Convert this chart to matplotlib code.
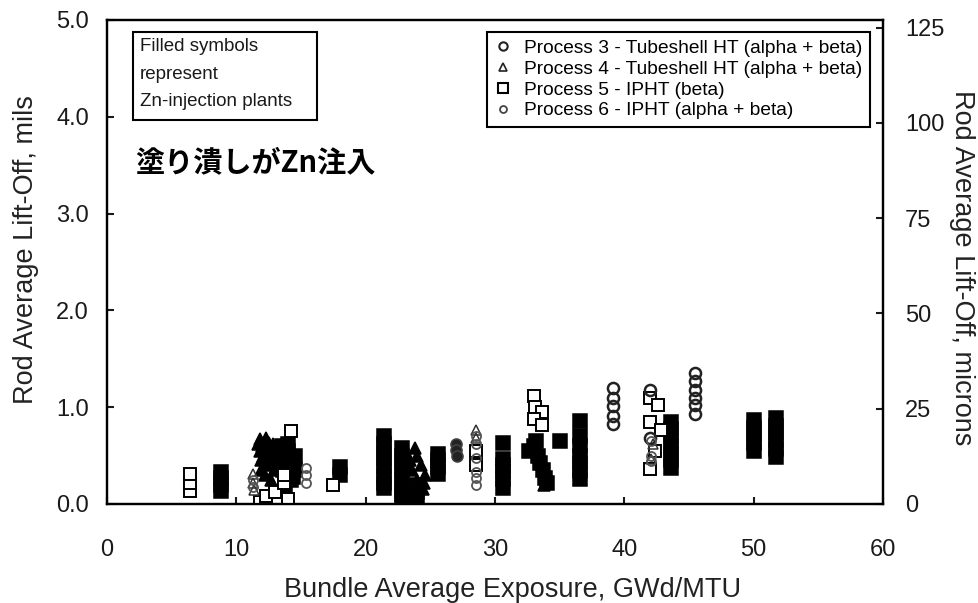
import matplotlib
matplotlib.use('Agg')
import matplotlib.pyplot as plt
from matplotlib.lines import Line2D
from matplotlib.patches import Rectangle

# Process 3 - Tubeshell HT (alpha + beta), circles
p3_open_x = [39.1, 39.1, 39.1, 39.1, 39.1, 45.5, 45.5, 45.5, 45.5, 45.5, 45.5, 42.0, 42.0]
p3_open_y = [1.20, 1.10, 1.01, 0.91, 0.83, 1.35, 1.27, 1.18, 1.10, 1.02, 0.93, 1.18, 0.68]
p3_fill_x = [27.0, 27.0, 27.1]
p3_fill_y = [0.62, 0.56, 0.50]

# Process 4 - Tubeshell HT (alpha + beta), triangles
p4_open_x = [11.3, 11.3, 11.4, 28.5, 28.5, 42.2, 42.1]
p4_open_y = [0.31, 0.22, 0.14, 0.76, 0.68, 0.62, 0.46]
p4_fill_x = [11.8, 12.3, 12.8, 11.8, 12.3, 12.7, 11.9, 12.4, 12.9, 12.2, 12.7, 13.2, 13.0,
             11.7, 12.0, 12.5, 12.1, 12.6, 13.1, 11.9, 12.4,
             23.8, 24.0, 24.3, 23.6, 24.0, 24.4, 23.8, 24.2, 24.6, 23.4, 24.5,
             33.2, 33.6, 34.0, 33.8]
p4_fill_y = [0.67, 0.68, 0.62, 0.55, 0.58, 0.50, 0.45, 0.40, 0.35, 0.30, 0.25, 0.45, 0.55,
             0.62, 0.60, 0.63, 0.50, 0.45, 0.38, 0.35, 0.52,
             0.58, 0.50, 0.40, 0.35, 0.25, 0.15, 0.08, 0.02, 0.30, 0.45, 0.22,
             0.55, 0.45, 0.30, 0.20]

# Process 5 - IPHT (beta), squares
p5_open_x = [6.4, 6.4, 6.4, 11.8, 12.3, 13.0, 14.0, 13.7, 13.7, 14.2, 17.5,
             28.5, 28.5, 33.0, 33.1, 33.6, 33.0, 33.6,
             42.0, 42.6, 42.0, 42.8, 42.4, 42.0]
p5_open_y = [0.13, 0.22, 0.31, 0.02, 0.08, 0.12, 0.05, 0.22, 0.30, 0.75, 0.20,
             0.55, 0.40, 1.12, 1.00, 0.95, 0.88, 0.82,
             1.10, 1.02, 0.85, 0.76, 0.55, 0.36]
p5_fill_x = [8.8, 8.8, 8.8, 8.8,
             13.5, 14.0, 14.5, 13.6, 14.1, 14.5, 13.6, 14.2, 13.8, 14.4, 14.0, 13.4,
             18.0, 18.0,
             21.4, 21.4, 21.4, 21.4, 21.4, 21.4, 21.4, 21.4,
             22.8, 22.8, 22.8, 22.8, 22.8, 22.8, 22.8, 22.8,
             24.0, 24.0, 24.0,
             25.6, 25.6, 25.6, 25.6,
             30.6, 30.6, 30.6, 30.6, 30.6, 30.6,
             32.6, 33.0, 33.3, 33.5, 33.7, 33.9, 34.0, 33.2,
             35.0,
             36.6, 36.6, 36.6, 36.6, 36.6, 36.6, 36.6,
             43.6, 43.6, 43.6, 43.6, 43.6, 43.6, 43.6,
             50.0, 50.0, 50.0, 50.0, 50.0,
             51.7, 51.7, 51.7, 51.7, 51.7, 51.7]
p5_fill_y = [0.13, 0.20, 0.27, 0.33,
             0.60, 0.55, 0.50, 0.45, 0.40, 0.35, 0.35, 0.25, 0.15, 0.28, 0.62, 0.52,
             0.38, 0.30,
             0.70, 0.62, 0.54, 0.46, 0.38, 0.30, 0.22, 0.17,
             0.58, 0.50, 0.42, 0.34, 0.26, 0.18, 0.10, 0.05,
             0.20, 0.12, 0.05,
             0.52, 0.45, 0.38, 0.31,
             0.63, 0.47, 0.40, 0.33, 0.26, 0.17,
             0.55, 0.60, 0.50, 0.42, 0.35, 0.27, 0.22, 0.65,
             0.65,
             0.86, 0.70, 0.60, 0.50, 0.42, 0.34, 0.26,
             0.85, 0.77, 0.69, 0.61, 0.53, 0.45, 0.37,
             0.87, 0.79, 0.71, 0.63, 0.55,
             0.89, 0.81, 0.73, 0.65, 0.57, 0.49]

# Process 6 - IPHT (alpha + beta), small circles
p6_open_x = [15.4, 15.4, 15.4, 28.5, 28.5, 28.5, 28.5, 28.5, 28.5, 42.1, 42.1, 42.1, 11.3, 11.3]
p6_open_y = [0.37, 0.30, 0.22, 0.70, 0.62, 0.48, 0.33, 0.27, 0.20, 0.65, 0.50, 0.44, 0.25, 0.18]

legend_labels = ['Process 3 - Tubeshell HT (alpha + beta)',
                 'Process 4 - Tubeshell HT (alpha + beta)',
                 'Process 5 - IPHT (beta)',
                 'Process 6 - IPHT (alpha + beta)']

plt.rcParams['font.family'] = ['Liberation Sans', 'DejaVu Sans']

fig = plt.figure(figsize=(9.79, 6.03), dpi=100)
ax = fig.add_axes([107 / 979, 1 - 504 / 603, 776 / 979, 484 / 603])

ms_sq = 9.5
mew = 1.1
ax.plot(p5_fill_x, p5_fill_y, 's', ms=ms_sq, mfc='black', mec='black', mew=mew, zorder=3)
ax.plot(p5_open_x, p5_open_y, 's', ms=ms_sq - 1, mfc='white', mec='black', mew=mew + 0.3, zorder=4)
ax.plot(p4_fill_x, p4_fill_y, '^', ms=8.5, mfc='black', mec='black', mew=mew, zorder=3)
ax.plot(p4_open_x, p4_open_y, '^', ms=7, mfc='none', mec='#333333', mew=mew, zorder=4)
ax.plot(p3_fill_x, p3_fill_y, 'o', ms=8, mfc='#222222', mec='#444444', mew=mew, zorder=3)
ax.plot(p3_open_x, p3_open_y, 'o', ms=8, mfc='none', mec='#222222', mew=1.8, zorder=4)
ax.plot(p6_open_x, p6_open_y, 'o', ms=6.5, mfc='none', mec='#555555', mew=1.3, zorder=4)

ax.set_xlim(0, 60)
ax.set_ylim(0, 5)
ax.set_xticks(range(0, 61, 10))
ax.set_yticks([0, 1, 2, 3, 4, 5])
ax.set_yticklabels(['%.1f' % v for v in [0, 1, 2, 3, 4, 5]])
for s in ax.spines.values():
    s.set_linewidth(1.6)
ax.tick_params(direction='in', length=5, width=1.5, labelsize=17, colors='#1a1a1a')
ax.tick_params(axis='x', pad=25)
ax.tick_params(axis='y', pad=13)

ax2 = ax.twinx()
ax2.set_ylim(0, 5 * 25.4)
ax2.set_yticks([0, 25, 50, 75, 100, 125])
ax2.tick_params(direction='in', length=5, width=1.5, labelsize=17, colors='#1a1a1a', pad=16)
for s in ax2.spines.values():
    s.set_linewidth(1.6)

fig.text(26 / 979, 1 - 250 / 603, 'Rod Average Lift-Off, mils', rotation=90,
         ha='center', va='center', fontsize=19.5, color='#222222')
fig.text(962 / 979, 1 - 268 / 603, 'Rod Average Lift-Off, microns', rotation=270,
         ha='center', va='center', fontsize=19.5, color='#222222')
fig.text(513 / 979, 1 - 590 / 603, 'Bundle Average Exposure, GWd/MTU',
         ha='center', va='center', fontsize=19.5, color='#222222')

# note box, top left
ax.add_patch(Rectangle((0.0335, 0.793), 0.2371, 0.182, transform=ax.transAxes,
                       fill=False, ec='black', lw=1.5, zorder=5))
ax.text(0.0425, 0.962, 'Filled symbols\nrepresent\nZn-injection plants', transform=ax.transAxes,
        ha='left', va='top', fontsize=13.5, linespacing=1.78, color='#1a1a1a', zorder=6)

ax.text(2.2, 3.53, '塗り潰しがZn注入', fontsize=21, fontweight='bold', ha='left', va='center',
        family=['Noto Sans CJK JP', 'DejaVu Sans'], color='black')

handles = [
    Line2D([], [], ls='none', marker='o', ms=6, mfc='none', mec='#222222', mew=1.5),
    Line2D([], [], ls='none', marker='^', ms=6, mfc='none', mec='#222222', mew=1.2),
    Line2D([], [], ls='none', marker='s', ms=7, mfc='none', mec='black', mew=1.5),
    Line2D([], [], ls='none', marker='o', ms=5, mfc='none', mec='#444444', mew=1.3),
]
leg = ax.legend(handles, legend_labels, loc='upper right', bbox_to_anchor=(0.983, 0.975),
                borderaxespad=0, fontsize=13.8, handlelength=0.8, handletextpad=0.7,
                labelspacing=0.17, borderpad=0.4, fancybox=False, framealpha=1,
                edgecolor='black')
leg.get_frame().set_linewidth(1.5)
leg.set_zorder(6)

fig.savefig('out.png', dpi=100)
